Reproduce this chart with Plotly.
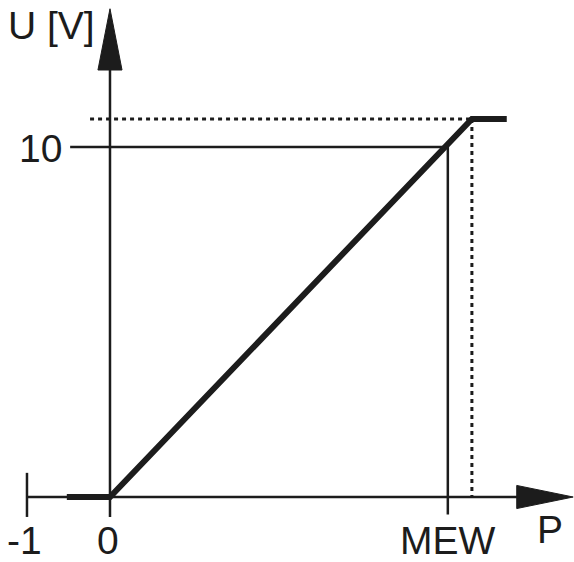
import plotly.graph_objects as go

# ---- data (units: P in tick units, U in volts) ----
p_ticks = [-1, 0]
p_tick_labels = ["-1", "0"]
u_ticks = [10]
u_tick_labels = ["10"]
mew = 4.07          # P value of MEW
u_sat = 10.8        # saturation voltage
p_sat = 4.36        # P where output saturates
curve_p = [-0.52, 0, p_sat, 4.78]
curve_u = [0, 0, u_sat, u_sat]

W, H = 574, 562
X_RANGE = [-1.325, 5.59]
Y_RANGE = [-1.857, 14.2]
INK = "#1c1c1c"
FONT = dict(family="Liberation Sans, Arial, sans-serif", size=39, color=INK)

fig = go.Figure()

def line(x, y, width=2.5, dash=None):
    fig.add_trace(go.Scatter(x=x, y=y, mode="lines", hoverinfo="skip",
                             line=dict(color=INK, width=width, dash=dash),
                             showlegend=False))

def tri(x, y):
    fig.add_trace(go.Scatter(x=x, y=y, mode="lines", fill="toself",
                             fillcolor=INK, line=dict(color=INK, width=1),
                             hoverinfo="skip", showlegend=False))

# axes
line([0, 0], [-0.57, 12.3])
tri([-0.145, 0, 0.145, -0.145], [12.2, 13.95, 12.2, 12.2])
line([p_ticks[0], 4.95], [0, 0])
tri([4.9, 5.58, 4.9, 4.9], [0.33, 0, -0.33, 0.33])
line([p_ticks[0], p_ticks[0]], [0.69, -0.57])

# reference lines
line([-0.48, mew], [u_ticks[0], u_ticks[0]])
line([mew, mew], [u_ticks[0], -0.5])
line([-0.24, p_sat], [u_sat, u_sat], width=3, dash="4px,4px")
line([p_sat, p_sat], [u_sat, 0], width=3, dash="4px,4px")

# characteristic curve
fig.add_trace(go.Scatter(x=curve_p, y=curve_u, mode="lines", hoverinfo="skip",
                         line=dict(color=INK, width=6), showlegend=False))

def label(text, px, py):
    fig.add_annotation(text=text, x=px / W, y=1 - py / H, xref="paper", yref="paper",
                       xanchor="center", yanchor="middle", showarrow=False, font=FONT)

label("U [V]", 51, 26)
label(u_tick_labels[0], 40, 148)
label(p_tick_labels[0], 24, 540)
label(p_tick_labels[1], 108, 540)
label("MEW", 448, 540)
label("P", 550, 529)

fig.update_layout(width=W, height=H, margin=dict(l=0, r=0, t=0, b=0),
                  paper_bgcolor="white", plot_bgcolor="white",
                  xaxis=dict(range=X_RANGE, visible=False, fixedrange=True),
                  yaxis=dict(range=Y_RANGE, visible=False, fixedrange=True))

fig.write_html("out.html", config={"displayModeBar": False},
               post_script="document.body.style.margin='0';document.body.style.overflow='hidden';")
